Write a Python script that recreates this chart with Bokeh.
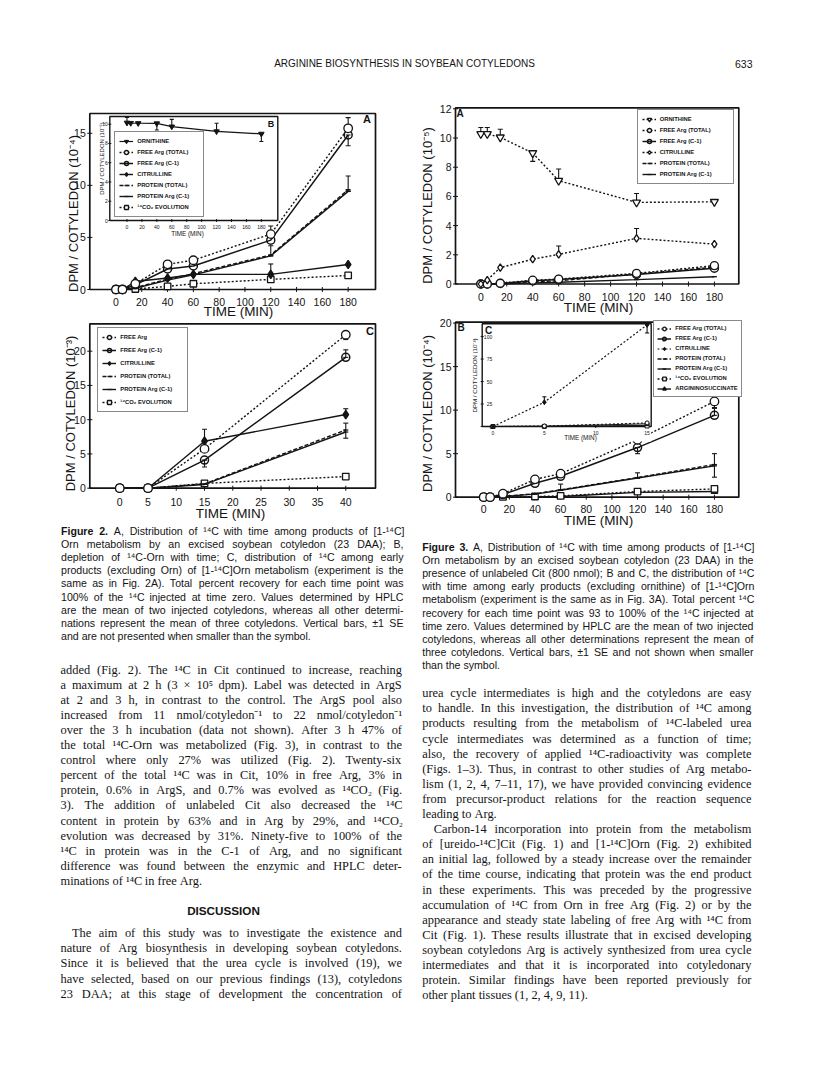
import numpy as np
from bokeh.plotting import figure
from bokeh.models import Range1d, Legend, LegendItem, ColumnDataSource
from bokeh.core.properties import value
from bokeh.embed import file_html
from bokeh.resources import INLINE

# ------------------------------------------------------------------ data
T7 = [0, 5, 15, 40, 60, 120, 180]          # minutes
T4 = [0, 5, 15, 40]
T3 = [0, 5, 15]

# Fig. 2A  (DPM / cotyledon, 10^-4)
f2a_free_total = [0, 0, 0.55, 2.42, 2.81, 5.32, 15.48]
f2a_free_c1 = [0, 0, 0.45, 1.97, 2.26, 4.74, 14.84]
f2a_cit = [0, 0, 0.77, 1.10, 1.45, 1.45, 2.40]
f2a_prot_total = [0, 0, 0.18, 1.00, 1.52, 3.32, 9.58]
f2a_prot_c1 = [0, 0, 0.12, 0.90, 1.40, 3.23, 9.42]
f2a_co2 = [0, 0, 0.05, 0.30, 0.55, 0.97, 1.35]
f2a_err_x = [120, 180, 180, 120, 180, 120]
f2a_err_lo = [5.32, 15.48, 13.80, 3.23, 9.42, 1.45]
f2a_err_hi = [6.10, 16.50, 14.84, 4.20, 10.90, 2.45]

# Fig. 2B inset (10^-5)
f2b_orn = [10.15, 10.12, 10.10, 10.08, 9.75, 9.25, 9.00]
f2b_err_x = [0, 40, 60, 120, 180]
f2b_err_lo = [10.15, 9.40, 9.75, 9.25, 8.20]
f2b_err_hi = [10.70, 10.10, 10.50, 10.10, 9.00]

# Fig. 2C (10^-3)
f2c_free_total = [0, 0, 5.74, 22.4]
f2c_free_c1 = [0, 0, 4.10, 19.1]
f2c_cit = [0, 0, 6.86, 10.75]
f2c_prot_total = [0, 0, 0.63, 8.50]
f2c_prot_c1 = [0, 0, 0.55, 8.20]
f2c_co2 = [0, 0, 0.70, 1.70]
f2c_err_x = [40, 15, 40, 15, 40, 40]
f2c_err_lo = [21.7, 3.10, 19.1, 6.86, 10.75, 7.30]
f2c_err_hi = [22.4, 4.10, 20.2, 8.60, 11.60, 9.50]

# Fig. 3A (10^-5)
f3a_orn = [10.28, 10.28, 10.05, 8.97, 7.08, 5.59, 5.63]
f3a_free_total = [0, 0, 0.05, 0.26, 0.34, 0.73, 1.26]
f3a_free_c1 = [0, 0, 0.04, 0.22, 0.30, 0.65, 1.08]
f3a_cit = [0, 0.27, 1.12, 1.70, 2.03, 3.13, 2.73]
f3a_prot_total = [0, 0, 0.02, 0.15, 0.22, 0.68, 1.15]
f3a_prot_c1 = [0, 0, 0.01, 0.08, 0.12, 0.30, 0.50]
f3a_err_x = [0, 5, 15, 40, 60, 120, 60, 120]
f3a_err_lo = [10.28, 10.28, 10.05, 8.40, 7.08, 5.59, 2.03, 3.13]
f3a_err_hi = [10.72, 10.72, 10.60, 8.97, 7.88, 6.20, 2.60, 3.80]

# Fig. 3B (10^-4)
f3b_free_total = [0, 0, 0.40, 2.05, 2.70, 6.60, 11.0]
f3b_free_c1 = [0, 0, 0.30, 1.60, 2.40, 5.70, 9.40]
f3b_prot_total = [0, 0, 0.10, 0.40, 0.85, 2.25, 3.75]
f3b_prot_c1 = [0, 0, 0.08, 0.35, 0.80, 2.20, 3.60]
f3b_co2 = [0, 0, 0.03, 0.08, 0.15, 0.65, 0.95]
f3b_args = [0, 0, 0, 0.04, 0.08, 0.55, 0.65]
f3b_err_x = [180, 120, 180, 60, 120, 180]
f3b_err_lo = [10.3, 5.0, 9.4, 0.8, 2.2, 2.3]
f3b_err_hi = [11.0, 5.7, 10.2, 1.5, 2.8, 5.0]

# Fig. 3C inset (10^-3)
f3c_cit = [0, 27.0, 113.0]
f3c_free_total = [0, 0.5, 4.0]
f3c_free_c1 = [0, 0.3, 3.0]
f3c_prot = [0, 0.1, 1.2]
f3c_co2 = [0, 0.1, 0.6]
f3c_err_x = [5, 15]
f3c_err_lo = [27.0, 104.0]
f3c_err_hi = [33.0, 113.0]

# tick values
f2a_xticks = [0, 20, 40, 60, 80, 100, 120, 140, 160, 180]
f2a_yticks = [0, 5, 10, 15]
f2b_xticks = [0, 20, 40, 60, 80, 100, 120, 140, 160, 180]
f2b_yticks = [0, 2, 4, 6, 8, 10]
f2c_xticks = [0, 5, 10, 15, 20, 25, 30, 35, 40]
f2c_yticks = [0, 5, 10, 15, 20]
f3a_xticks = [0, 20, 40, 60, 80, 100, 120, 140, 160, 180]
f3a_yticks = [0, 2, 4, 6, 8, 10, 12]
f3b_xticks = [0, 20, 40, 60, 80, 100, 120, 140, 160, 180]
f3b_yticks = [0, 5, 10, 15, 20]
f3c_xticks = [0, 5, 10, 15]
f3c_yticks = [0, 25, 50, 75, 100]

# ------------------------------------------------------------------ text
header = "ARGININE BIOSYNTHESIS IN SOYBEAN COTYLEDONS"
page_no = "633"

cap2 = [
    "§Figure §2. A, Distribution of ¹⁴C with time among products of [1-¹⁴C]",
    "Orn metabolism by an excised soybean cotyledon (23 DAA); B,",
    "depletion of ¹⁴C-Orn with time; C, distribution of ¹⁴C among early",
    "products (excluding Orn) of [1-¹⁴C]Orn metabolism (experiment is the",
    "same as in Fig. 2A). Total percent recovery for each time point was",
    "100% of the ¹⁴C injected at time zero. Values determined by HPLC",
    "are the mean of two injected cotyledons, whereas all other determi-",
    "nations represent the mean of three cotyledons. Vertical bars, ±1 SE",
    "and are not presented when smaller than the symbol.",
]
cap3 = [
    "§Figure §3. A, Distribution of ¹⁴C with time among products of [1-¹⁴C]",
    "Orn metabolism by an excised soybean cotyledon (23 DAA) in the",
    "presence of unlabeled Cit (800 nmol); B and C, the distribution of ¹⁴C",
    "with time among early products (excluding ornithine) of [1-¹⁴C]Orn",
    "metabolism (experiment is the same as in Fig. 3A). Total percent ¹⁴C",
    "recovery for each time point was 93 to 100% of the ¹⁴C injected at",
    "time zero. Values determined by HPLC are the mean of two injected",
    "cotyledons, whereas all other determinations represent the mean of",
    "three cotyledons. Vertical bars, ±1 SE and not shown when smaller",
    "than the symbol.",
]
body_left = [
    "added (Fig. 2). The ¹⁴C in Cit continued to increase, reaching",
    "a maximum at 2 h (3 × 10⁵ dpm). Label was detected in ArgS",
    "at 2 and 3 h, in contrast to the control. The ArgS pool also",
    "increased from 11 nmol/cotyledon⁻¹ to 22 nmol/cotyledon⁻¹",
    "over the 3 h incubation (data not shown). After 3 h 47% of",
    "the total ¹⁴C-Orn was metabolized (Fig. 3), in contrast to the",
    "control where only 27% was utilized (Fig. 2). Twenty-six",
    "percent of the total ¹⁴C was in Cit, 10% in free Arg, 3% in",
    "protein, 0.6% in ArgS, and 0.7% was evolved as ¹⁴CO₂ (Fig.",
    "3). The addition of unlabeled Cit also decreased the ¹⁴C",
    "content in protein by 63% and in Arg by 29%, and ¹⁴CO₂",
    "evolution was decreased by 31%. Ninety-five to 100% of the",
    "¹⁴C in protein was in the C-1 of Arg, and no significant",
    "difference was found between the enzymic and HPLC deter-",
    "minations of ¹⁴C in free Arg.",
]
disc_head = "DISCUSSION"
disc_left = [
    "\tThe aim of this study was to investigate the existence and",
    "nature of Arg biosynthesis in developing soybean cotyledons.",
    "Since it is believed that the urea cycle is involved (19), we",
    "have selected, based on our previous findings (13), cotyledons",
    "23 DAA; at this stage of development the concentration of",
]
body_right = [
    "urea cycle intermediates is high and the cotyledons are easy",
    "to handle. In this investigation, the distribution of ¹⁴C among",
    "products resulting from the metabolism of ¹⁴C-labeled urea",
    "cycle intermediates was determined as a function of time;",
    "also, the recovery of applied ¹⁴C-radioactivity was complete",
    "(Figs. 1–3). Thus, in contrast to other studies of Arg metabo-",
    "lism (1, 2, 4, 7–11, 17), we have provided convincing evidence",
    "from precursor-product relations for the reaction sequence",
    "leading to Arg.",
    "\tCarbon-14 incorporation into protein from the metabolism",
    "of [ureido-¹⁴C]Cit (Fig. 1) and [1-¹⁴C]Orn (Fig. 2) exhibited",
    "an initial lag, followed by a steady increase over the remainder",
    "of the time course, indicating that protein was the end product",
    "in these experiments. This was preceded by the progressive",
    "accumulation of ¹⁴C from Orn in free Arg (Fig. 2) or by the",
    "appearance and steady state labeling of free Arg with ¹⁴C from",
    "Cit (Fig. 1). These results illustrate that in excised developing",
    "soybean cotyledons Arg is actively synthesized from urea cycle",
    "intermediates and that it is incorporated into cotyledonary",
    "protein. Similar findings have been reported previously for",
    "other plant tissues (1, 2, 4, 9, 11).",
]

# ------------------------------------------------------------------ styles / layout
INK = "#141414"
SANS = "Liberation Sans"
SERIF = "Liberation Serif"
W, H = 814, 1070

p = figure(width=W, height=H, x_range=Range1d(0, W), y_range=Range1d(H, 0),
           output_backend="svg", toolbar_location=None, min_border=0,
           x_axis_location=None, y_axis_location=None)
p.grid.visible = False
p.outline_line_color = None
p.background_fill_color = "white"
p.border_fill_color = "white"


def _tbl(pairs, default=500):
    d = {}
    for chars, w in pairs:
        for c in chars:
            d[c] = w
    d["_"] = default
    return d


TIMES_W = _tbl([(" ,.", 250), ("iltj:;/", 278), ("¹⁴⁵⁻₂", 300), ("Ifr()[]-", 333),
                ("sJ", 389), ("acez?", 444), ("bdghknopquvxy0123456789–", 500),
                ("FPS", 556), ("×±", 564), ("ELTZ", 611), ("BCR", 667),
                ("ADGHKNOQUVXYw", 722), ("m", 778), ("%", 833), ("M", 889), ("W", 944)])
ARIAL_W = _tbl([("ijl", 222), (" ,.:;/[]ftI", 278), ("¹⁴⁵⁻₂", 333), ("()-r", 333),
                ("cksvxyzJ", 500), ("abdeghnopqu0123456789L", 556), ("±", 584),
                ("FTZ", 611), ("ABEKPSVXY", 667), ("CDHNRUw", 722), ("GOQ", 778),
                ("mM", 833), ("%", 889), ("W", 944)], default=556)
ARIALB_W = _tbl([(" .i", 278), ("r", 389), ("e0123456789", 556), ("Fgu", 611)], default=611)


def em_width(s, tbl):
    return sum(tbl.get(c, tbl["_"]) for c in s) / 1000.0


def text_block(lines, x0, x1, y0, dy, fs_target, tbl, btbl, last, indent=11.5):
    parsed = []
    fs = fs_target
    for i, raw in enumerate(lines):
        ind = indent if raw.startswith("\t") else 0.0
        words = raw.strip("\t").split()
        ems = [em_width(w.lstrip("§"), btbl if w.startswith("§") else tbl) for w in words]
        parsed.append((ind, words, ems))
        if i not in last and len(words) > 1:
            need = sum(ems) + 0.2 * (len(words) - 1)
            fs = min(fs, (x1 - x0 - ind) / need)
    reg = dict(x=[], y=[], t=[])
    bold = dict(x=[], y=[], t=[])
    for i, (ind, words, ems) in enumerate(parsed):
        widths = [e * fs for e in ems]
        if i in last or len(words) < 2:
            gap = tbl[" "] / 1000.0 * fs
        else:
            gap = (x1 - x0 - ind - sum(widths)) / (len(words) - 1)
        x = x0 + ind
        for w, wd in zip(words, widths):
            tgt = bold if w.startswith("§") else reg
            tgt["x"].append(x)
            tgt["y"].append(y0 + i * dy)
            tgt["t"].append(w.lstrip("§"))
            x += wd + gap
    return fs, reg, bold


def draw_words(d, font, fs, style="normal"):
    if d["t"]:
        p.text(x="x", y="y", text="t", source=ColumnDataSource(d), text_font=value(font),
               text_font_size=f"{fs:.2f}px", text_font_style=style, text_baseline="middle",
               text_align="left", text_color=INK)


def block(lines, x0, x1, y0, dy, fs, font, tbl, btbl, last, bfont=SANS):
    fs2, reg, bold = text_block(lines, x0, x1, y0, dy, fs, tbl, btbl, last)
    draw_words(reg, font, fs2)
    draw_words(bold, bfont, fs2, "bold")


def label(x, y, txt, fs, font=SANS, style="normal", align="center", angle=0.0):
    p.text(x=[x], y=[y], text=[txt], text_font=value(font), text_font_size=fs,
           text_font_style=style, text_align=align, text_baseline="middle",
           angle=angle, text_color=INK)


# page text
label(404, 63, header, "10px")
label(752, 63, page_no, "10.5px", align="right")
block(cap2, 60.5, 403, 530, 13.2, 10.6, SANS, ARIAL_W, ARIALB_W, {8})
block(cap3, 421.7, 753, 546, 13.2, 10.6, SANS, ARIAL_W, ARIALB_W, {9})
block(body_left, 60, 401.5, 669, 15.1, 12.4, SERIF, TIMES_W, TIMES_W, {14})
label(223, 910, disc_head, "11.7px", style="bold")
block(disc_left, 60, 401.5, 932.7, 15.1, 12.4, SERIF, TIMES_W, TIMES_W, set())
block(body_right, 421.7, 751, 692.7, 15.1, 12.4, SERIF, TIMES_W, TIMES_W, {8, 20})

# ------------------------------------------------------------------ charts
S2A = dict(xlim=(-20.3, 201.2), ylim=(0, 16.9), box=(89.3, 375.0, 289.0, 113.0))
S2B = dict(xlim=(-23.0, 202.0), ylim=(0, 10.8), box=(109.3, 277.3, 220.0, 116.0))
S2C = dict(xlim=(-5.3, 45.26), ylim=(0, 24.0), box=(89.3, 375.0, 487.7, 323.3))
S3A = dict(xlim=(-19.5, 198.8), ylim=(0, 12.07), box=(455.0, 738.3, 283.5, 107.3))
S3B = dict(xlim=(-22.0, 199.0), ylim=(0, 20.1), box=(455.0, 738.3, 496.7, 321.7))
S3C = dict(xlim=(-1.05, 15.4), ylim=(0, 114.2), box=(481.7, 650.7, 426.0, 323.3))


def sub_of(s):
    l, r, b, t = s["box"]
    return p.subplot(x_source=Range1d(*s["xlim"]), y_source=Range1d(*s["ylim"]),
                     x_target=Range1d(l, r), y_target=Range1d(b, t))


def frame(sub, s, lw=1.7, fill=None):
    (x0, x1), (y0, y1) = s["xlim"], s["ylim"]
    sub.quad(left=[x0], right=[x1], bottom=[y0], top=[y1], fill_color=fill,
             line_color=INK, line_width=lw)


def ticks(sub, s, xt, yt, fs, xoff, yoff, tick=5, lab_inside=False):
    (x0, x1), (y0, y1) = s["xlim"], s["ylim"]
    sub.text(x=xt, y=[y0] * len(xt), text=[str(v) for v in xt], text_align="center",
             text_baseline="middle", y_offset=xoff, text_font=value(SANS),
             text_font_size=fs, text_color=INK)
    sub.text(x=[x0] * len(yt), y=yt, text=[str(v) for v in yt], text_align="right",
             text_baseline="middle", x_offset=(yoff if lab_inside else -yoff),
             text_font=value(SANS), text_font_size=fs, text_color=INK)
    sub.scatter(x=xt, y=[y0] * len(xt), marker="dash", angle=np.pi / 2, size=tick,
                line_color=INK, line_width=1)
    sub.scatter(x=[x0] * len(yt), y=yt, marker="dash", size=tick, line_color=INK,
                line_width=1)


def errbars(sub, x, lo, hi, cap=5):
    sub.segment(x0=x, y0=lo, x1=x, y1=hi, line_color=INK, line_width=1.1)
    sub.scatter(x=x, y=hi, marker="dash", size=cap, line_color=INK, line_width=1.1)
    sub.scatter(x=x, y=lo, marker="dash", size=cap, line_color=INK, line_width=1.1)


def series(sub, x, y, marker, fill, dash="solid", size=8, lw=1.4, mlw=1.3):
    ln = sub.line(x=x, y=y, line_color=INK, line_width=lw, line_dash=dash)
    sc = sub.scatter(x=x, y=y, marker=marker, size=size, fill_color=fill,
                     line_color=INK, line_width=mlw)
    return [ln, sc]


DOT = "2 2"
DASH = "4 2"

# ---- Fig 2A
a2 = sub_of(S2A)
frame(a2, S2A)
ticks(a2, S2A, f2a_xticks, f2a_yticks, "10.5px", 12, 4)
errbars(a2, f2a_err_x, f2a_err_lo, f2a_err_hi)
r2a_co2 = series(a2, T7, f2a_co2, "square", "white", DOT, 6.5)
r2a_pt = series(a2, T7, f2a_prot_total, "dash", INK, DASH, 5)
r2a_pc = series(a2, T7, f2a_prot_c1, "dash", INK, "solid", 5)
r2a_cit = series(a2, T7, f2a_cit, "diamond", INK, "solid", 8.5)
r2a_fc = series(a2, T7, f2a_free_c1, "circle", None, "solid", 8, 1.5, 1.5)
r2a_ft = series(a2, T7, f2a_free_total, "circle", "white", DOT, 8.5)
label(366.5, 118, "A", "11px", style="bold")
label(73, 213, "DPM / COTYLEDON (10⁻⁴)", "13px", angle=np.pi / 2)
label(238, 311, "TIME (MIN)", "13.5px")

# ---- Fig 2B inset
p.quad(left=[96], right=[277.3], bottom=[222], top=[116], fill_color="white", line_color=None)
b2 = sub_of(S2B)
frame(b2, S2B, 1.4)
ticks(b2, S2B, f2b_xticks, f2b_yticks, "5px", 6, 2, 3)
errbars(b2, f2b_err_x, f2b_err_lo, f2b_err_hi, 4)
r2b_orn = series(b2, T7, f2b_orn, "inverted_triangle", INK, "solid", 5.5, 1.2, 1)
label(270.5, 123, "B", "9px", style="bold")
label(101.5, 158, "DPM / COTYLEDON (10⁻⁵)", "6px", angle=np.pi / 2)
label(187, 233, "TIME (MIN)", "6.3px")

# ---- Fig 2C
c2 = sub_of(S2C)
frame(c2, S2C)
ticks(c2, S2C, f2c_xticks, f2c_yticks, "10.5px", 14, 4)
errbars(c2, f2c_err_x, f2c_err_lo, f2c_err_hi)
r2c_co2 = series(c2, T4, f2c_co2, "square", "white", DOT, 6.5)
r2c_pt = series(c2, T4, f2c_prot_total, "dash", INK, DASH, 5)
r2c_pc = series(c2, T4, f2c_prot_c1, "dash", INK, "solid", 5)
r2c_cit = series(c2, T4, f2c_cit, "diamond", INK, "solid", 8.5)
r2c_fc = series(c2, T4, f2c_free_c1, "circle", None, "solid", 8, 1.5, 1.5)
r2c_ft = series(c2, T4, f2c_free_total, "circle", "white", DOT, 8.5)
label(369.5, 330, "C", "11px", style="bold")
label(70, 413, "DPM / COTYLEDON (10⁻³)", "13px", angle=np.pi / 2)
label(230, 513, "TIME (MIN)", "13.5px")

# ---- Fig 3A
a3 = sub_of(S3A)
frame(a3, S3A)
ticks(a3, S3A, f3a_xticks, f3a_yticks, "10.5px", 13, 4)
errbars(a3, f3a_err_x, f3a_err_lo, f3a_err_hi)
r3a_pc = series(a3, T7, f3a_prot_c1, "dash", INK, "solid", 5)
r3a_pt = series(a3, T7, f3a_prot_total, "dash", INK, DASH, 5)
r3a_fc = series(a3, T7, f3a_free_c1, "circle", None, "solid", 8, 1.5, 1.5)
r3a_ft = series(a3, T7, f3a_free_total, "circle", "white", DOT, 8)
r3a_cit = series(a3, T7, f3a_cit, "diamond", "white", DOT, 7.5)
r3a_orn = series(a3, T7, f3a_orn, "inverted_triangle", "white", DOT, 8)
label(459.5, 113, "A", "10px", style="bold")
label(427, 205, "DPM / COTYLEDON (10⁻⁵)", "13px", angle=np.pi / 2)
label(598, 307, "TIME (MIN)", "13.5px")

# ---- Fig 3B
b3 = sub_of(S3B)
frame(b3, S3B)
ticks(b3, S3B, f3b_xticks, f3b_yticks, "10.5px", 12, 4)
errbars(b3, f3b_err_x, f3b_err_lo, f3b_err_hi)
r3b_args = series(b3, T7, f3b_args, "triangle", INK, "solid", 6.5)
r3b_co2 = series(b3, T7, f3b_co2, "square", "white", DOT, 6.5)
r3b_pt = series(b3, T7, f3b_prot_total, "dash", INK, DASH, 5)
r3b_pc = series(b3, T7, f3b_prot_c1, "dash", INK, "solid", 5)
r3b_fc = series(b3, T7, f3b_free_c1, "circle", None, "solid", 8, 1.5, 1.5)
r3b_ft = series(b3, T7, f3b_free_total, "circle", "white", DOT, 8.5)
label(460.5, 327, "B", "10px", style="bold")
label(427, 413, "DPM / COTYLEDON (10⁻⁴)", "13px", angle=np.pi / 2)
label(598, 520, "TIME (MIN)", "13.5px")

# ---- Fig 3C inset
p.quad(left=[466], right=[650.7], bottom=[441], top=[323.3], fill_color="white", line_color=None)
c3 = sub_of(S3C)
frame(c3, S3C, 1.4)
ticks(c3, S3C, f3c_xticks, f3c_yticks, "5px", 6, 10, 3, lab_inside=True)
errbars(c3, f3c_err_x, f3c_err_lo, f3c_err_hi, 4)
r3c_co2 = series(c3, T3, f3c_co2, "square", "white", DOT, 4, 1, 1)
r3c_prot = series(c3, T3, f3c_prot, "dash", INK, "solid", 4, 1, 1)
r3c_fc = series(c3, T3, f3c_free_c1, "circle", INK, "solid", 4, 1, 1)
r3c_ft = series(c3, T3, f3c_free_total, "circle", "white", DOT, 4, 1, 1)
r3c_cit = series(c3, T3, f3c_cit, "diamond", INK, DOT, 5, 1.2, 1)
label(488, 330, "C", "10px", style="bold")
label(474, 375, "DPM / COTYLEDON (10⁻³)", "6.2px", angle=np.pi / 2)
label(580, 437, "TIME (MIN)", "6.3px")


# ------------------------------------------------------------------ legends
def legend(entries, left, top, gh, sp, pad, lw):
    n = len(entries)
    h = 2 * pad + n * gh + (n - 1) * sp
    bottom = top + h
    lg = Legend(items=[LegendItem(label=t, renderers=r) for t, r in entries],
                location=(left, H - bottom), orientation="vertical", margin=0,
                padding=pad, spacing=sp, glyph_width=14, glyph_height=gh, label_height=gh,
                label_width=lw, label_standoff=4, label_text_font=SANS,
                label_text_font_style="bold", label_text_font_size="5.8px",
                label_text_color=INK, border_line_color=INK, border_line_width=1.2,
                background_fill_color="white", background_fill_alpha=1.0)
    p.add_layout(lg)


legend([("ORNITHINE", r2b_orn), ("FREE Arg (TOTAL)", r2a_ft), ("FREE Arg (C-1)", r2a_fc),
        ("CITRULLINE", r2a_cit), ("PROTEIN (TOTAL)", r2a_pt), ("PROTEIN Arg (C-1)", r2a_pc),
        ("¹⁴CO₂ EVOLUTION", r2a_co2)], 114.3, 132.7, 10, 1, 4, 62)
legend([("FREE Arg", r2c_ft), ("FREE Arg (C-1)", r2c_fc), ("CITRULLINE", r2c_cit),
        ("PROTEIN (TOTAL)", r2c_pt), ("PROTEIN Arg (C-1)", r2c_pc),
        ("¹⁴CO₂ EVOLUTION", r2c_co2)], 97.3, 328.7, 10, 3, 4, 63)
legend([("ORNITHINE", r3a_orn), ("FREE Arg (TOTAL)", r3a_ft), ("FREE Arg (C-1)", r3a_fc),
        ("CITRULLINE", r3a_cit), ("PROTEIN (TOTAL)", r3a_pt), ("PROTEIN Arg (C-1)", r3a_pc)],
       636.7, 111, 10, 1, 4, 69)
legend([("FREE Arg (TOTAL)", r3b_ft), ("FREE Arg (C-1)", r3b_fc), ("CITRULLINE", r3c_cit),
        ("PROTEIN (TOTAL)", r3b_pt), ("PROTEIN Arg (C-1)", r3b_pc),
        ("¹⁴CO₂ EVOLUTION", r3b_co2), ("ARGININOSUCCINATE", r3b_args)],
       653.3, 321.7, 9, 1, 3, 61)

open("out.html", "w").write(file_html(p, INLINE, title="Arginine biosynthesis in soybean cotyledons"))
